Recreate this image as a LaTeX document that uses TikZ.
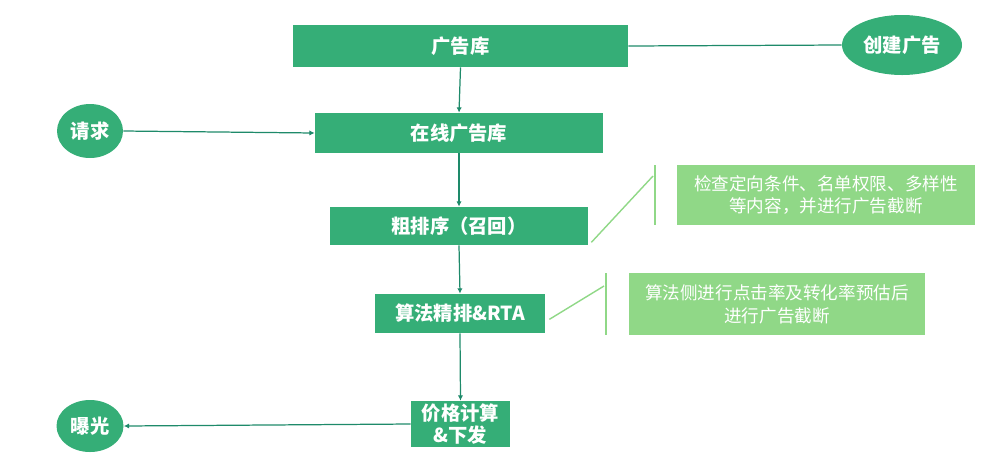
\documentclass[tikz,border=0pt]{standalone}
\usepackage{fontspec}
\setmainfont{Noto Sans CJK SC}
\usetikzlibrary{arrows.meta}
\definecolor{dg}{HTML}{35AE77}
\definecolor{lg}{HTML}{90D887}
\definecolor{ln}{HTML}{1E8A6A}
\tikzset{
 box/.style={fill=dg,draw=none,text=white,font=\bfseries\fontsize{11}{13}\selectfont,inner sep=0pt,align=center},
 oval/.style={ellipse,fill=dg,draw=none,text=white,font=\bfseries\fontsize{11}{13}\selectfont,inner sep=0pt},
 note/.style={fill=lg,draw=none,text=white,font=\fontsize{10}{13}\selectfont,inner sep=0pt,align=center},
 conn/.style={draw=ln,line width=0.7pt,-{Latex[length=3pt,width=3pt]}},
 callout/.style={draw=lg,line width=0.8pt}
}
\usetikzlibrary{shapes.geometric}
\begin{document}
\begin{tikzpicture}[x=0.02cm,y=-0.02cm]
\useasboundingbox (0,0) rectangle (1000,464);
\node[box,minimum width=335*0.02cm,minimum height=42*0.02cm] (lib) at (460.5,46) {广告库};
\node[oval,minimum width=120*0.02cm,minimum height=60*0.02cm] (create) at (902,45) {创建广告};
\node[box,minimum width=288*0.02cm,minimum height=40*0.02cm] (online) at (459,133) {在线广告库};
\node[oval,minimum width=66*0.02cm,minimum height=54*0.02cm] (req) at (90,131) {请求};
\node[box,minimum width=258*0.02cm,minimum height=38*0.02cm] (coarse) at (459,226) {粗排序（召回）};
\node[box,minimum width=170*0.02cm,minimum height=39*0.02cm] (fine) at (460,313.5) {算法精排\&RTA};
\node[box,minimum width=99*0.02cm,minimum height=46*0.02cm] (price) at (460.5,424) {价格计算\\\&下发};
\node[oval,minimum width=67*0.02cm,minimum height=52*0.02cm] (exp) at (90,426) {曝光};
\node[note,minimum width=298*0.02cm,minimum height=60*0.02cm] (n1) at (826,195) {检查定向条件、名单权限、多样性\\等内容，并进行广告截断};
\node[note,minimum width=296*0.02cm,minimum height=62*0.02cm] (n2) at (777,304) {算法侧进行点击率及转化率预估后\\进行广告截断};
\coordinate (b1t) at (655,165); \coordinate (b1b) at (655,225); \coordinate (b1m) at (653,176);
\coordinate (b2t) at (606,273); \coordinate (b2b) at (606,335); \coordinate (b2m) at (604,286);
\draw[draw=ln,line width=0.7pt] (create.west) -- (lib.east);
\draw[conn] (lib.south) -- (online.north);
\draw[conn] (req.east) -- (online.west);
\draw[conn] (online.south) -- (coarse.north);
\draw[conn] (coarse.south) -- (fine.north);
\draw[conn] (fine.south) -- (price.north);
\draw[conn] (price.west) -- (exp.east);
\draw[callout] (b1t) -- (b1b);
\draw[callout] (coarse.south east)++(3,-3) -- (b1m);
\draw[callout] (b2t) -- (b2b);
\draw[callout] (fine.south east)++(4,-14) -- (b2m);
\end{tikzpicture}
\end{document}
